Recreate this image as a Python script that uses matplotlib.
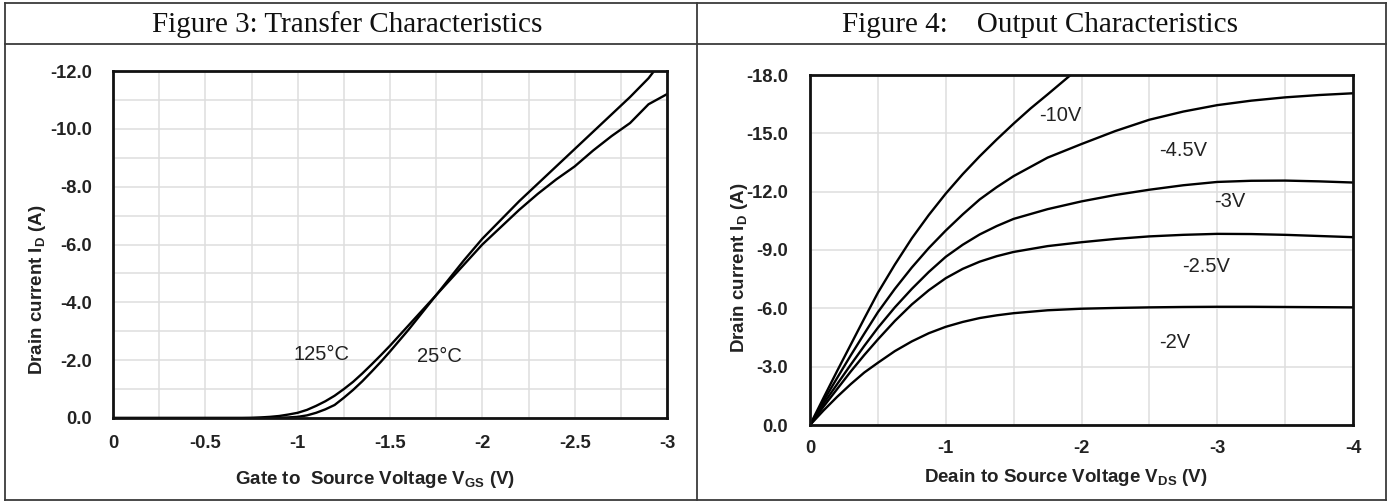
import matplotlib
matplotlib.use("Agg")
import matplotlib.pyplot as plt
from matplotlib.lines import Line2D
from matplotlib.ticker import MultipleLocator, FixedLocator

# ---------------- data ----------------
# Figure 3: transfer characteristics (V_GS in V, I_D in A)
vgs_25 = [0, -0.5, -0.8, -0.85, -0.9, -0.95, -1.0, -1.05, -1.1, -1.15, -1.2, -1.25, -1.3,
          -1.35, -1.4, -1.45, -1.5, -1.6, -1.7, -1.8, -1.9, -2.0, -2.1, -2.2, -2.3, -2.4,
          -2.5, -2.6, -2.7, -2.8, -2.9, -2.93]
id_25 = [0, 0, 0, 0, -0.01, -0.02, -0.04, -0.09, -0.18, -0.3, -0.45, -0.7, -0.97,
         -1.27, -1.6, -1.94, -2.3, -3.05, -3.85, -4.65, -5.45, -6.2, -6.85, -7.5, -8.1, -8.7,
         -9.3, -9.9, -10.5, -11.1, -11.75, -12.0]
vgs_125 = [0, -0.5, -0.7, -0.75, -0.8, -0.85, -0.9, -0.95, -1.0, -1.05, -1.1, -1.15, -1.2,
           -1.25, -1.3, -1.35, -1.4, -1.45, -1.5, -1.6, -1.7, -1.8, -1.9, -2.0, -2.1, -2.2,
           -2.3, -2.4, -2.5, -2.6, -2.7, -2.8, -2.9, -3.0]
id_125 = [0, 0, 0, -0.005, -0.02, -0.04, -0.07, -0.12, -0.18, -0.28, -0.42, -0.58, -0.77,
          -1.0, -1.25, -1.54, -1.85, -2.17, -2.5, -3.2, -3.9, -4.6, -5.3, -6.0, -6.6, -7.2,
          -7.75, -8.25, -8.7, -9.25, -9.75, -10.2, -10.85, -11.2]

transfer_xticks = [0, -0.5, -1, -1.5, -2, -2.5, -3]
transfer_xticklabels = ["0", "-0.5", "-1", "-1.5", "-2", "-2.5", "-3"]
transfer_yticks = [0, -2, -4, -6, -8, -10, -12]
transfer_yticklabels = ["0.0", "-2.0", "-4.0", "-6.0", "-8.0", "-10.0", "-12.0"]

# Figure 4: output characteristics (V_DS in V, I_D in A) for several V_GS
vds = [0, -0.1, -0.2, -0.3, -0.4, -0.5, -0.625, -0.75, -0.875, -1.0, -1.125, -1.25,
       -1.375, -1.5, -1.75, -2.0, -2.25, -2.5, -2.75, -3.0, -3.25, -3.5, -3.75, -4.0]
id_vgs_2 = [0, -0.75, -1.45, -2.1, -2.7, -3.2, -3.8, -4.3, -4.72, -5.05, -5.3, -5.5,
            -5.64, -5.75, -5.9, -5.98, -6.02, -6.05, -6.07, -6.08, -6.08, -6.07, -6.06, -6.05]
id_vgs_2p5 = [0, -0.95, -1.85, -2.75, -3.6, -4.4, -5.35, -6.2, -6.93, -7.55, -8.03, -8.4,
              -8.68, -8.9, -9.2, -9.4, -9.57, -9.7, -9.78, -9.83, -9.82, -9.78, -9.72, -9.66]
id_vgs_3 = [0, -1.1, -2.1, -3.1, -4.07, -5.0, -6.05, -7.0, -7.87, -8.65, -9.27, -9.8,
            -10.23, -10.6, -11.1, -11.5, -11.83, -12.1, -12.33, -12.5, -12.56, -12.57, -12.53, -12.47]
id_vgs_4p5 = [0, -1.25, -2.42, -3.58, -4.7, -5.8, -7.0, -8.1, -9.1, -10.0, -10.83, -11.6,
              -12.23, -12.8, -13.75, -14.45, -15.12, -15.7, -16.12, -16.45, -16.68, -16.85, -16.97, -17.06]
vds_10 = [0, -0.1, -0.2, -0.3, -0.4, -0.5, -0.625, -0.75, -0.875, -1.0, -1.125, -1.25,
          -1.375, -1.5, -1.625, -1.75, -1.92]
id_vgs_10 = [0, -1.4, -2.78, -4.13, -5.48, -6.8, -8.25, -9.6, -10.8, -11.9, -12.9, -13.82,
             -14.68, -15.5, -16.28, -17.0, -18.0]

output_labels = ["-2V", "-2.5V", "-3V", "-4.5V", "-10V"]
output_xticks = [0, -1, -2, -3, -4]
output_xticklabels = ["0", "-1", "-2", "-3", "-4"]
output_yticks = [0, -3, -6, -9, -12, -15, -18]
output_yticklabels = ["0.0", "-3.0", "-6.0", "-9.0", "-12.0", "-15.0", "-18.0"]

# ---------------- style ----------------
W, H = 1391, 504
SANS = ["Liberation Sans", "DejaVu Sans"]
plt.rcParams["mathtext.fontset"] = "custom"
plt.rcParams["mathtext.rm"] = "Liberation Sans:bold"
plt.rcParams["mathtext.it"] = "Liberation Sans:bold"
plt.rcParams["mathtext.bf"] = "Liberation Sans:bold"

fig = plt.figure(figsize=(W / 100, H / 100), dpi=100)
fig.patch.set_facecolor("white")


def fx(px):
    return px / W


def fy(py):
    return 1 - py / H


# table frame
border = dict(color="#3a3a3a", lw=1.3)
for (x0, y0, x1, y1) in [(5, 3, 1386, 3), (5, 500, 1386, 500), (5, 3, 5, 500),
                         (1386, 3, 1386, 500), (697, 3, 697, 500), (5, 44, 1386, 44)]:
    fig.add_artist(Line2D([fx(x0), fx(x1)], [fy(y0), fy(y1)], transform=fig.transFigure, **border))

fig.text(fx(347), fy(25), "Figure 3: Transfer Characteristics", family="Liberation Serif",
         fontsize=21, ha="center", va="center", color="#111111")
fig.text(fx(1040), fy(25), "Figure 4:    Output Characteristics", family="Liberation Serif",
         fontsize=21, ha="center", va="center", color="#111111")

grid_color = "#dedede"
tick_color = "#222222"


def style_axes(ax, xpad, ypad):
    for s in ax.spines.values():
        s.set_linewidth(2.0)
        s.set_color("#111111")
        s.set_zorder(5)
    ax.grid(True, which="both", color=grid_color, lw=1.1)
    ax.set_axisbelow(True)
    ax.tick_params(which="both", length=0)
    ax.tick_params(axis="x", pad=xpad)
    ax.tick_params(axis="y", pad=ypad)
    for lab in ax.get_xticklabels() + ax.get_yticklabels():
        lab.set_family(SANS)
        lab.set_fontweight("bold")
        lab.set_fontsize(13.2)
        lab.set_color(tick_color)


# ---------- left: transfer ----------
ax1 = fig.add_axes([fx(113), fy(418), fx(667 - 113), (418 - 71) / H])
ax1.plot(vgs_25, id_25, color="black", lw=1.7, zorder=3)
ax1.plot(vgs_125, id_125, color="black", lw=1.7, zorder=3)
ax1.set_xlim(0, -3)
ax1.set_ylim(0, -12)
ax1.xaxis.set_major_locator(FixedLocator(transfer_xticks))
ax1.set_xticklabels(transfer_xticklabels)
ax1.yaxis.set_major_locator(FixedLocator(transfer_yticks))
ax1.set_yticklabels(transfer_yticklabels)
ax1.xaxis.set_minor_locator(MultipleLocator(0.25))
ax1.yaxis.set_minor_locator(MultipleLocator(1.0))
style_axes(ax1, xpad=12, ypad=15)
ax1.text(-1.13, -2.18, "125°C", family=SANS, fontsize=14.5, color=tick_color,
         ha="center", va="center")
ax1.text(-1.77, -2.11, "25°C", family=SANS, fontsize=14.5, color=tick_color,
         ha="center", va="center")
ax1.text((375 - 113) / 554, (418 - 480) / 347, r"Gate to  Source Voltage V$_{\mathrm{GS}}$ (V)",
         transform=ax1.transAxes, family=SANS, fontweight="bold", fontsize=13.5,
         color=tick_color, ha="center", va="center")
ax1.text((38 - 113) / 554, (418 - 290) / 347, r"Drain current I$_{\mathrm{D}}$ (A)",
         transform=ax1.transAxes, family=SANS, fontweight="bold", fontsize=13.5,
         color=tick_color, ha="center", va="center", rotation=90)

# ---------- right: output ----------
ax2 = fig.add_axes([fx(810), fy(425), fx(1353 - 810), (425 - 75) / H])
for ids in [id_vgs_2, id_vgs_2p5, id_vgs_3, id_vgs_4p5]:
    ax2.plot(vds, ids, color="black", lw=1.7, zorder=3)
ax2.plot(vds_10, id_vgs_10, color="black", lw=1.7, zorder=3)
ax2.set_xlim(0, -4)
ax2.set_ylim(0, -18)
ax2.xaxis.set_major_locator(FixedLocator(output_xticks))
ax2.set_xticklabels(output_xticklabels)
ax2.yaxis.set_major_locator(FixedLocator(output_yticks))
ax2.set_yticklabels(output_yticklabels)
ax2.xaxis.set_minor_locator(MultipleLocator(0.5))
style_axes(ax2, xpad=11, ypad=16)
label_pos = [(-2.69, -4.22), (-2.92, -8.13), (-3.09, -11.47), (-2.75, -14.14), (-1.84, -15.9)]
for txt, (x, y) in zip(output_labels, label_pos):
    ax2.text(x, y, txt, family=SANS, fontsize=14.5, color=tick_color, ha="center", va="center")
ax2.text((1066 - 810) / 543, (425 - 477) / 350, r"Deain to Source Voltage V$_{\mathrm{DS}}$ (V)",
         transform=ax2.transAxes, family=SANS, fontweight="bold", fontsize=13.5,
         color=tick_color, ha="center", va="center")
ax2.text((739 - 810) / 543, (425 - 268) / 350, r"Drain current I$_{\mathrm{D}}$ (A)",
         transform=ax2.transAxes, family=SANS, fontweight="bold", fontsize=13.5,
         color=tick_color, ha="center", va="center", rotation=90)

fig.savefig("out.png", dpi=100, facecolor="white")
